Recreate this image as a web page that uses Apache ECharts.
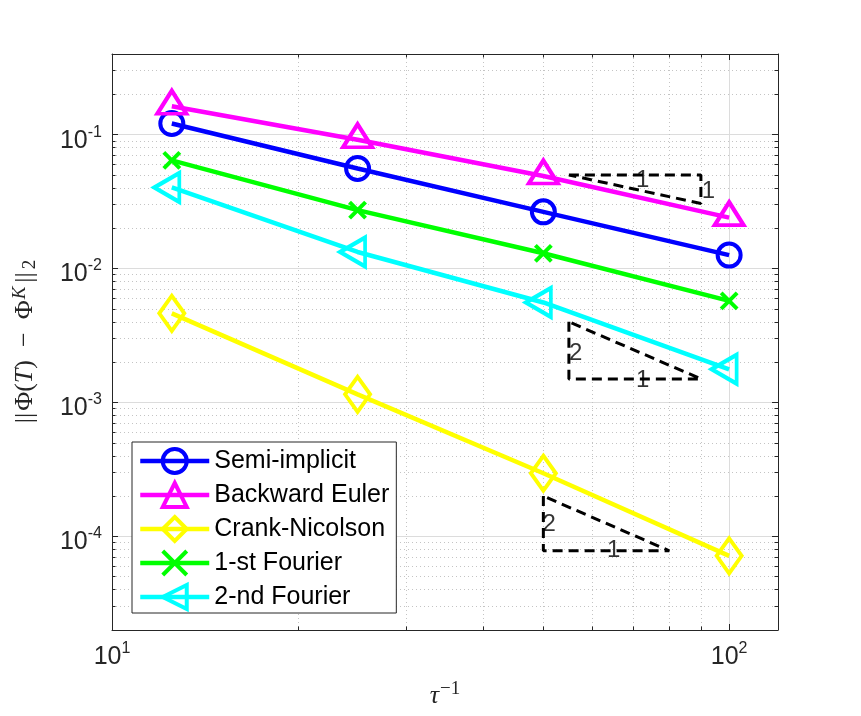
<!DOCTYPE html>
<html>
<head>
<meta charset="utf-8">
<title>Convergence in time</title>
<script src="https://cdn.jsdelivr.net/npm/echarts@6/dist/echarts.min.js"></script>
<style>
  html, body { margin: 0; padding: 0; background: #fff; }
  #chart { width: 861px; height: 716px; }
</style>
</head>
<body>
<div id="chart"></div>
<script>
// tau^{-1}
const tauInv = [12.5, 25, 50, 100];

// ||Phi(T) - Phi^K||_2 for each scheme
const semiImplicit  = [0.121, 0.0558, 0.0265, 0.0126];
const backwardEuler = [0.163, 0.0915, 0.0491, 0.0240];
const crankNicolson = [0.00463, 0.00115, 0.000296, 0.0000716];
const fourier1st    = [0.0643, 0.0273, 0.0130, 0.00574];
const fourier2nd    = [0.0403, 0.0133, 0.00558, 0.00177];

// slope triangles (corner points)
const slope1X = [55, 90, 90, 55];
const slope1Y = [0.05, 0.05, 0.0306, 0.05];
const slope2X = [55, 55, 90, 55];
const slope2Y = [0.004, 0.0015, 0.0015, 0.004];
const slope3X = [50, 50, 80, 50];
const slope3Y = [0.0002, 0.000078, 0.000078, 0.0002];

// slope labels
const slopeTextX = [72.4, 92.6, 56.4, 72.4, 51.1, 65.0];
const slopeTextY = [0.0456, 0.0379, 0.00234, 0.00146, 0.000122, 0.0000781];
const slopeText  = ['1', '1', '2', '1', '2', '1'];

// axes
const xMin = 10, xMax = 120;
const yMin = 2e-5, yMax = 0.4;
const xMajor = [10, 100];
const xMinor = [20, 30, 40, 50, 60, 70, 80, 90];
const yMajor = [1e-4, 1e-3, 1e-2, 1e-1];
const yMinor = [
    3e-5, 4e-5, 5e-5, 6e-5, 7e-5, 8e-5, 9e-5,
    2e-4, 3e-4, 4e-4, 5e-4, 6e-4, 7e-4, 8e-4, 9e-4,
    2e-3, 3e-3, 4e-3, 5e-3, 6e-3, 7e-3, 8e-3, 9e-3,
    2e-2, 3e-2, 4e-2, 5e-2, 6e-2, 7e-2, 8e-2, 9e-2,
    2e-1, 3e-1
];

const names = ['Semi-implicit', 'Backward Euler', 'Crank-Nicolson', '1-st Fourier', '2-nd Fourier'];

const axisColor = '#262626';
const sans = '"Liberation Sans", Arial, sans-serif';
const serif = '"Liberation Serif", "Times New Roman", serif';

const pairs = (xs, ys) => xs.map((x, i) => [x, ys[i]]);

// 10^n labels
const powLabel = (v) => {
    const e = Math.round(Math.log10(v));
    return '{b|10}{s|' + e + '}';
};
const powRich = {
    b: { fontSize: 25, lineHeight: 25, fontFamily: sans, color: axisColor, padding: [12, 0, 0, 0] },
    s: { fontSize: 16, lineHeight: 16, fontFamily: sans, color: axisColor, padding: [0, 0, 5, 0] }
};

const majorGrid = { show: true, lineStyle: { color: '#dcdcdc', width: 1 } };
const minorGrid = { show: true, lineStyle: { color: '#c4c4c4', width: 1, type: [1, 3] } };

function logAxis(min, max, extra) {
    return Object.assign({
        type: 'log',
        logBase: 10,
        min: min,
        max: max,
        axisLine: { show: false },
        axisTick: { show: false },
        axisLabel: { show: false },
        splitLine: { show: false },
        minorTick: { show: false },
        minorSplitLine: { show: false }
    }, extra);
}

const edge = { show: true, onZero: false, lineStyle: { color: axisColor, width: 1 } };
const tick = (vals, len) => ({
    show: true, inside: true, length: len, customValues: vals,
    lineStyle: { color: axisColor, width: 1 }
});

function mark(name, data, color, symbol, size, extra) {
    return Object.assign({
        name: name,
        type: 'line',
        data: data,
        xAxisIndex: 0,
        yAxisIndex: 0,
        symbol: symbol,
        symbolSize: size,
        showAllSymbol: true,
        lineStyle: { color: color, width: 4.5 },
        itemStyle: { color: 'rgba(0,0,0,0)', borderColor: color, borderWidth: 4 },
        emphasis: { disabled: true },
        z: 3
    }, extra);
}

function slopeLine(xs, ys) {
    return {
        type: 'line',
        data: pairs(xs, ys),
        xAxisIndex: 0,
        yAxisIndex: 0,
        symbol: 'none',
        silent: true,
        lineStyle: { color: '#000', width: 3, type: [10, 6] },
        z: 4
    };
}

const chart = echarts.init(document.getElementById('chart'));

chart.setOption({
    animation: false,
    backgroundColor: '#fff',
    grid: { left: 112, right: 83, top: 54, bottom: 86, containLabel: false, outerBoundsMode: 'none' },
    legend: {
        data: names,
        orient: 'vertical',
        left: 132,
        top: 442,
        padding: [5, 7, 2, 6],
        itemWidth: 69,
        itemHeight: 30,
        itemGap: 6,
        backgroundColor: '#fff',
        borderColor: '#262626',
        borderWidth: 1,
        borderRadius: 0,
        selectedMode: false,
        lineStyle: { width: 4.5 },
        itemStyle: { borderWidth: 4 },
        textStyle: { fontSize: 25, fontFamily: sans, color: '#000' }
    },
    xAxis: [
        logAxis(xMin, xMax, {
            position: 'bottom',
            axisLine: edge,
            axisTick: tick(xMajor, 6),
            axisLabel: { show: true, customValues: xMajor, margin: 9, formatter: powLabel, rich: powRich },
            splitLine: majorGrid,
            name: '{i|τ}{s|−1}',
            nameLocation: 'middle',
            nameGap: 48,
            nameTextStyle: {
                rich: {
                    i: { fontSize: 26, lineHeight: 26, fontFamily: serif, fontStyle: 'italic', color: axisColor, padding: [8, 0, 0, 0] },
                    s: { fontSize: 19, lineHeight: 19, fontFamily: serif, color: axisColor, padding: [0, 0, 6, 1] }
                }
            }
        }),
        logAxis(xMin, xMax, {
            position: 'bottom',
            axisTick: tick(xMinor, 3.5),
            splitLine: minorGrid
        }),
        logAxis(xMin, xMax, {
            position: 'top',
            axisLine: edge,
            axisTick: tick(xMajor, 6)
        }),
        logAxis(xMin, xMax, {
            position: 'top',
            axisTick: tick(xMinor, 3.5)
        })
    ],
    yAxis: [
        logAxis(yMin, yMax, {
            position: 'left',
            axisLine: edge,
            axisTick: tick(yMajor, 6),
            axisLabel: { show: true, customValues: yMajor, margin: 10, formatter: powLabel, rich: powRich },
            splitLine: majorGrid,
            name: '{b|||}{n|Φ(}{i|T}{n|)}{o|−}{n|Φ}{u|K}{b|||}{d|2}',
            nameLocation: 'middle',
            nameRotate: 90,
            nameGap: 72,
            nameTextStyle: {
                rich: {
                    b: { fontSize: 26, lineHeight: 30, fontFamily: serif, color: axisColor, padding: [0, 2, 0, 1] },
                    n: { fontSize: 26, lineHeight: 30, fontFamily: serif, color: axisColor },
                    i: { fontSize: 26, lineHeight: 30, fontFamily: serif, fontStyle: 'italic', color: axisColor },
                    o: { fontSize: 26, lineHeight: 30, fontFamily: serif, color: axisColor, padding: [0, 13, 0, 13] },
                    u: { fontSize: 19, lineHeight: 19, fontFamily: serif, fontStyle: 'italic', color: axisColor, padding: [0, 3, 10, 1] },
                    d: { fontSize: 19, lineHeight: 19, fontFamily: serif, color: axisColor, padding: [10, 0, 0, 1] }
                }
            }
        }),
        logAxis(yMin, yMax, {
            position: 'left',
            axisTick: tick(yMinor, 3.5),
            splitLine: minorGrid
        }),
        logAxis(yMin, yMax, {
            position: 'right',
            axisLine: edge,
            axisTick: tick(yMajor, 6)
        }),
        logAxis(yMin, yMax, {
            position: 'right',
            axisTick: tick(yMinor, 3.5)
        })
    ],
    series: [
        mark(names[0], pairs(tauInv, semiImplicit), '#0000ff', 'circle', 23),
        mark(names[1], pairs(tauInv, backwardEuler), '#ff00ff', 'triangle', [29, 23], { symbolOffset: [0, -4] }),
        mark(names[2], pairs(tauInv, crankNicolson), '#ffff00', 'diamond', [25, 35]),
        mark(names[3], pairs(tauInv, fourier1st), '#00ff00', 'path://M0,0L10,10M10,0L0,10', 16),
        mark(names[4], pairs(tauInv, fourier2nd), '#00ffff', 'triangle', [29, 25], { symbolRotate: 90, symbolOffset: [-5, 0] }),
        slopeLine(slope1X, slope1Y),
        slopeLine(slope2X, slope2Y),
        slopeLine(slope3X, slope3Y),
        {
            type: 'scatter',
            data: slopeTextX.map((x, i) => [x, slopeTextY[i], slopeText[i]]),
            xAxisIndex: 0,
            yAxisIndex: 0,
            symbolSize: 1,
            silent: true,
            itemStyle: { color: 'rgba(0,0,0,0)' },
            label: {
                show: true,
                position: 'inside',
                formatter: (p) => p.value[2],
                fontSize: 24,
                fontFamily: sans,
                color: '#000'
            },
            z: 5
        }
    ]
});
</script>
</body>
</html>
